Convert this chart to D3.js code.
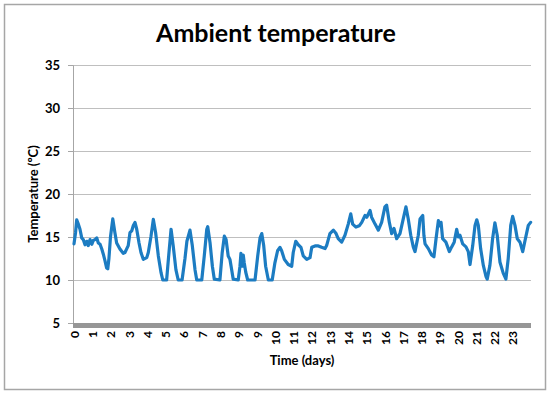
<!DOCTYPE html>
<html><head><meta charset="utf-8">
<script src="https://cdn.jsdelivr.net/npm/d3@7/dist/d3.min.js"></script>
<style>
body{margin:0;background:#fff}
text{font-family:Lato,'Open Sans',sans-serif;font-weight:bold;fill:#000}
</style>
</head><body>
<svg id="c" width="550" height="395"></svg>
<script>
// time (days) and ambient temperature (ºC)
const timeDays = [0.00,0.08,0.14,0.21,0.31,0.40,0.48,0.57,0.66,0.74,0.83,0.92,1.00,1.09,1.18,1.26,1.35,1.44,1.52,1.61,1.69,1.75,1.81,1.89,2.01,2.12,2.21,2.38,2.55,2.64,2.81,2.90,2.99,3.07,3.16,3.25,3.37,3.47,3.59,3.77,3.85,3.99,4.11,4.23,4.37,4.51,4.60,4.80,4.89,5.03,5.14,5.28,5.40,5.60,5.75,5.85,6.01,6.13,6.27,6.36,6.62,6.75,6.88,6.93,7.05,7.17,7.27,7.56,7.68,7.79,7.88,7.99,8.08,8.17,8.25,8.51,8.60,8.65,8.72,8.77,8.82,8.90,9.00,9.38,9.52,9.64,9.73,9.83,9.93,10.07,10.27,10.41,10.55,10.67,10.76,10.90,11.10,11.28,11.36,11.49,11.62,11.76,11.88,12.06,12.23,12.32,12.49,12.66,12.83,13.01,13.09,13.26,13.44,13.58,13.69,13.87,14.04,14.21,14.34,14.44,14.61,14.78,14.91,15.08,15.17,15.34,15.42,15.60,15.77,15.94,16.11,16.20,16.34,16.46,16.58,16.72,16.89,17.06,17.20,17.32,17.45,17.58,17.67,17.84,17.93,18.07,18.13,18.19,18.36,18.53,18.65,18.76,18.88,18.96,19.02,19.10,19.27,19.45,19.57,19.70,19.83,19.91,20.00,20.14,20.31,20.43,20.52,20.66,20.78,20.87,20.95,21.07,21.21,21.35,21.41,21.55,21.69,21.81,21.93,22.07,22.24,22.38,22.50,22.63,22.73,22.85,22.97,23.11,23.25,23.39,23.54,23.66];
const tempC = [14.2,15.5,17.0,16.6,15.9,14.9,14.7,14.1,14.5,14.0,14.7,14.15,14.6,14.7,14.9,14.3,14.15,13.6,13.0,12.2,11.4,11.3,12.5,15.0,17.1,15.5,14.3,13.6,13.1,13.2,14.0,15.5,15.7,16.3,16.7,15.9,14.3,13.2,12.4,12.6,13.2,15.1,17.05,15.5,12.8,10.85,10.0,10.0,12.4,15.9,14.0,11.2,10.0,10.0,12.5,14.5,15.8,14.0,11.2,10.0,10.0,12.8,15.9,16.2,14.3,11.6,10.1,10.0,13.2,15.1,14.7,12.8,12.4,11.2,10.1,10.0,11.6,13.1,11.6,12.9,12.0,10.9,10.0,10.0,12.8,14.9,15.4,14.0,11.6,10.0,10.0,12.0,13.4,13.8,13.4,12.4,11.8,11.6,13.2,14.5,14.1,13.8,12.8,12.4,12.6,13.8,13.96,13.96,13.8,13.65,14.0,15.4,15.8,15.4,14.8,14.4,15.2,16.5,17.7,16.5,16.15,16.3,16.7,17.5,17.3,18.1,17.3,16.5,15.8,16.7,18.5,18.7,16.7,15.4,16.0,14.8,15.4,17.1,18.5,17.1,15.2,13.85,13.3,15.2,17.1,17.5,15.2,14.2,13.65,12.9,12.7,14.8,16.9,16.3,16.7,14.8,14.4,13.3,13.85,14.4,15.9,15.0,15.2,14.2,13.85,13.3,11.8,14.0,16.35,17.0,16.35,13.65,11.7,10.4,10.1,11.7,14.8,16.65,15.2,12.1,10.8,10.1,12.5,16.35,17.4,16.35,14.8,14.4,13.3,14.8,16.35,16.7];
const yTicks = [5,10,15,20,25,30,35];
const xTickLabels = ["0","1","2","3","4","5","6","7","8","9","9","10","11","12","13","14","15","16","17","18","19","20","21","22","23"];
const labelStepDays = 0.947;
const titleText = "Ambient temperature";
const yTitle = "Temperature (ºC)";
const xTitle = "Time (days)";

const svg = d3.select("#c");
const L = 73, R = 531, T = 65, B = 323;
const x = d3.scaleLinear().domain([0, 23.68]).range([74, R]);
const y = d3.scaleLinear().domain([5, 35]).range([B, T]);

// outer border
svg.append("rect").attr("x",4.5).attr("y",4.5).attr("width",541).attr("height",385)
  .attr("fill","#fff").attr("stroke","#a6a6a6").attr("stroke-width",1.5);

// title
svg.append("text").attr("x",276).attr("y",42).attr("text-anchor","middle")
  .style("font-size","25px").text(titleText);

// gridlines
svg.append("g").selectAll("line").data(yTicks.filter(d=>d>5)).join("line")
  .attr("x1",L).attr("x2",R).attr("y1",d=>y(d)+0.5).attr("y2",d=>y(d)+0.5)
  .attr("stroke","#bfbfbf").attr("stroke-width",1);

// y axis
const ya = svg.append("g").attr("transform",`translate(${L},0)`)
  .call(d3.axisLeft(y).tickValues(yTicks).tickSize(5).tickPadding(8).tickFormat(d3.format("d")));
ya.select(".domain").attr("stroke","#a6a6a6");
ya.selectAll(".tick line").attr("stroke","#a6a6a6");
ya.selectAll("text").style("font-size","13px").attr("fill","#000");

// bottom thick axis bar
svg.append("rect").attr("x",L).attr("y",B).attr("width",R-L).attr("height",5).attr("fill","#969696");

// x axis labels
const tickDays = xTickLabels.map((_,k)=>k*labelStepDays);
const xa = svg.append("g").attr("transform",`translate(0,${B+5})`)
  .call(d3.axisBottom(x).tickValues(tickDays).tickSize(0).tickFormat((d,i)=>xTickLabels[i]));
xa.select(".domain").remove();
xa.selectAll("text").attr("transform","rotate(-90)").attr("text-anchor","end")
  .attr("x",-3).attr("y",0).attr("dy","0.36em").style("font-size","12px").attr("fill","#000");

// axis titles
svg.append("text").attr("transform",`translate(38,194) rotate(-90)`).attr("text-anchor","middle")
  .style("font-size","13px").text(yTitle);
svg.append("text").attr("x",302).attr("y",365).attr("text-anchor","middle")
  .style("font-size","13px").text(xTitle);

// line
svg.append("path").datum(timeDays.map((t,i)=>[t,tempC[i]]))
  .attr("fill","none").attr("stroke","#1c7cc2").attr("stroke-width",3.2)
  .attr("stroke-linejoin","round").attr("stroke-linecap","round")
  .attr("d", d3.line().x(d=>x(d[0])).y(d=>y(d[1])));
</script>
</body></html>
